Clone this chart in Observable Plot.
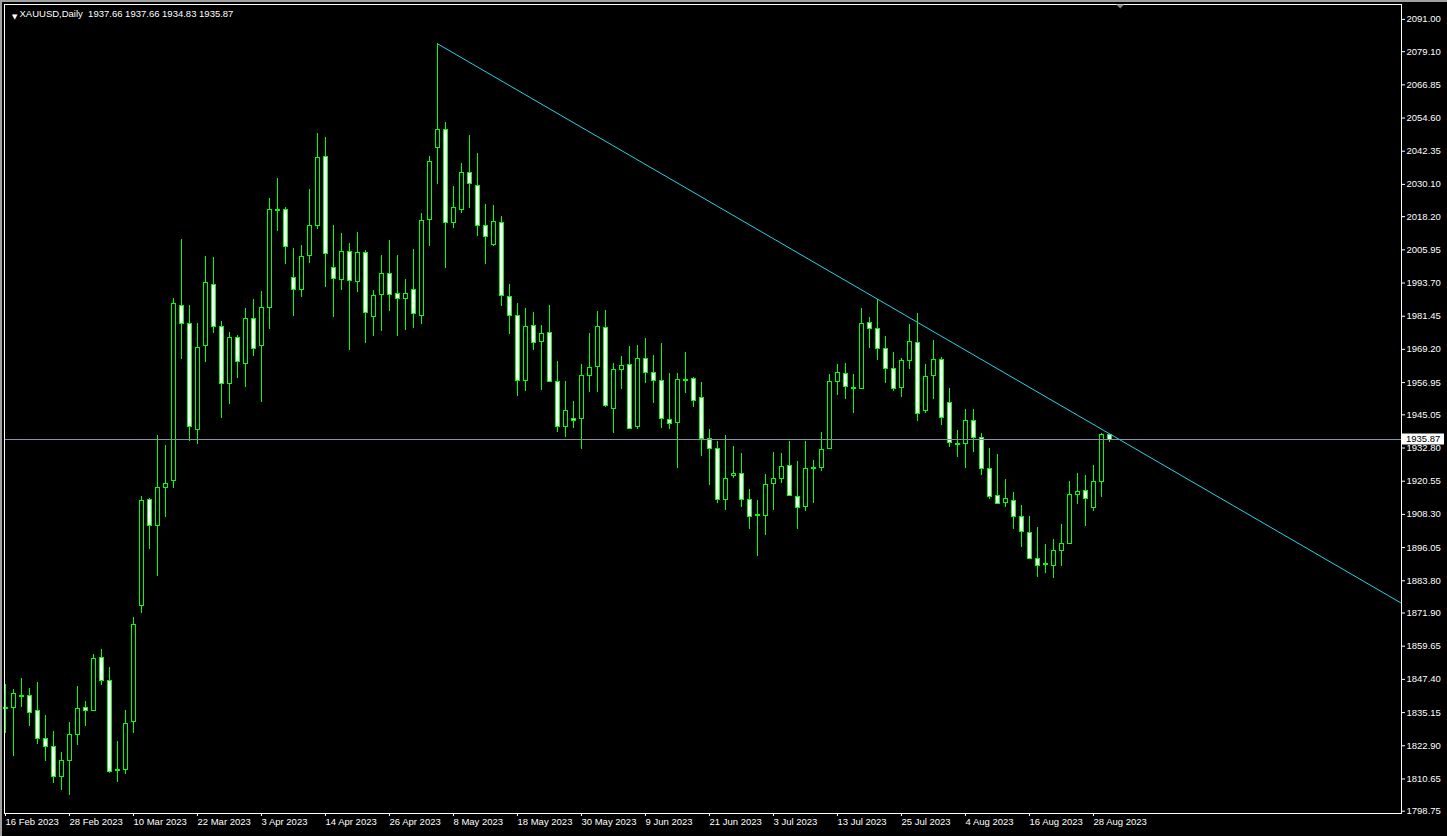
<!DOCTYPE html>
<html>
<head>
<meta charset="utf-8">
<script src="https://cdn.jsdelivr.net/npm/d3@7"></script>
<script src="https://cdn.jsdelivr.net/npm/@observablehq/plot@0.6"></script>
<style>
  html, body { margin: 0; padding: 0; background: #000; overflow: hidden; }
  #wrap { position: relative; width: 1447px; height: 836px; background: #000; }
  #wrap svg { display: block; }
  .edge-top { position: absolute; left: 0; top: 0; width: 1447px; height: 2px; background: #a0a0a0; }
  .edge-left { position: absolute; left: 0; top: 0; width: 2px; height: 836px; background: #a0a0a0; }
</style>
</head>
<body>
<div id="wrap"><div class="edge-top"></div><div class="edge-left"></div></div>
<script>
// ---- data (XAUUSD, Daily) ----
const symbol = "XAUUSD,Daily";
const tickLabels = ["16 Feb 2023","28 Feb 2023","10 Mar 2023","22 Mar 2023","3 Apr 2023","14 Apr 2023","26 Apr 2023","8 May 2023","18 May 2023","30 May 2023","9 Jun 2023","21 Jun 2023","3 Jul 2023","13 Jul 2023","25 Jul 2023","4 Aug 2023","16 Aug 2023","28 Aug 2023"];
const tickBars = [0,8,16,24,32,40,48,56,64,72,80,88,96,104,112,120,128,136];
const priceTicks = [2091.00,2079.10,2066.85,2054.60,2042.35,2030.10,2018.20,2005.95,1993.70,1981.45,1969.20,1956.95,1945.05,1932.80,1920.55,1908.30,1896.05,1883.80,1871.90,1859.65,1847.40,1835.15,1822.90,1810.65,1798.75];

const open = [1836.3,1836.9,1840.8,1841.4,1835.8,1825.5,1822.5,1811.3,1817.2,1826.8,1837.0,1835.8,1855.4,1846.9,1813.6,1813.9,1831.8,1874.6,1913.7,1904.1,
1918.1,1920.6,1985.3,1978.7,1939.4,1970.4,1993.1,1977.6,1956.4,1973.5,1963.8,1980.5,1970.4,1984.6,2020.4,2020.7,1995.6,1991.2,2003.8,2014.8,
2040.3,1999.3,1994.9,2005.2,1994.0,2004.9,1981.3,1989.4,1997.1,1989.7,1987.9,1991.2,1981.6,2017.1,2043.6,2050.3,2015.8,2020.6,2034.4,2029.6,
2014.8,2007.7,2015.9,1988.6,1981.6,1957.6,1977.9,1972.0,1975.3,1957.3,1940.7,1943.6,1943.6,1959.5,1962.8,1977.2,1947.3,1961.7,1963.5,1940.7,
1965.8,1960.6,1957.6,1943.2,1942.1,1957.5,1958.4,1951.4,1936.2,1932.5,1913.6,1922.6,1923.3,1913.7,1907.8,1907.8,1919.6,1921.5,1926.3,1914.8,
1911.0,1924.9,1925.5,1932.5,1957.3,1960.2,1954.6,1954.5,1979.0,1976.8,1969.4,1962.1,1955.0,1965.0,1971.7,1946.6,1959.5,1965.4,1949.5,1934.0,
1934.4,1942.9,1936.6,1925.1,1915.2,1912.6,1913.3,1907.4,1901.5,1891.9,1889.5,1889.3,1894.9,1897.5,1915.6,1917.0,1910.8,1920.4,1937.66];
const high = [1845.5,1843.7,1847.7,1844.1,1846.3,1834.1,1828.2,1820.4,1831.5,1844.8,1839.3,1856.6,1858.5,1851.7,1824.5,1835.9,1870.2,1914.9,1914.2,1937.4,
1933.7,1987.9,2009.8,1985.4,1978.7,2003.5,2003.1,1979.5,1975.5,1974.4,1984.3,1987.6,1990.6,2024.9,2032.3,2021.6,2006.5,2007.6,2028.2,2048.9,
2047.4,2015.0,2012.0,2008.3,2012.4,2005.7,1991.0,2003.9,2009.4,2003.9,1995.0,2006.0,2019.4,2040.4,2082.0,2053.0,2029.3,2037.8,2048.2,2041.5,
2022.7,2022.3,2018.3,1993.2,1986.2,1984.3,1982.8,1978.0,1985.4,1964.8,1957.4,1950.0,1963.6,1975.1,1983.2,1983.6,1963.9,1966.6,1970.3,1970.7,
1973.2,1967.0,1971.4,1960.3,1960.2,1968.1,1958.7,1956.9,1939.5,1935.2,1937.4,1933.4,1930.8,1917.4,1913.4,1923.0,1931.1,1930.8,1935.2,1927.8,
1935.2,1928.2,1938.5,1960.0,1963.6,1963.9,1960.0,1984.3,1981.0,1987.5,1974.0,1968.1,1965.8,1978.4,1982.5,1963.6,1972.5,1966.1,1954.8,1939.3,
1947.0,1947.0,1938.1,1932.5,1930.4,1921.1,1916.3,1911.5,1907.4,1903.5,1897.2,1898.9,1904.5,1920.5,1923.4,1922.7,1926.4,1938.1,1937.66];
const low = [1827.5,1819.1,1837.2,1830.1,1823.5,1817.2,1809.1,1806.5,1804.7,1823.1,1830.1,1835.6,1845.3,1812.8,1809.5,1812.2,1827.6,1871.6,1895.5,1885.5,
1907.3,1918.0,1965.6,1935.3,1934.1,1964.4,1975.2,1943.7,1949.0,1958.6,1955.2,1966.7,1949.7,1976.7,2012.8,2000.7,1981.5,1988.5,2001.0,2013.6,
1992.2,1981.1,1991.0,1968.8,1990.2,1971.5,1974.1,1975.9,1983.3,1974.0,1976.2,1977.0,1978.5,2007.3,2030.2,1999.2,2014.0,2019.5,2021.3,2011.0,
2000.7,2007.3,1985.2,1974.8,1951.9,1953.8,1968.9,1954.2,1956.9,1938.7,1936.8,1940.1,1932.3,1953.4,1953.4,1947.9,1938.1,1954.3,1939.6,1939.6,
1956.5,1949.1,1939.9,1939.6,1925.1,1953.1,1947.7,1929.8,1919.1,1912.5,1909.9,1921.5,1910.8,1902.9,1892.9,1900.6,1909.9,1919.8,1914.8,1902.6,
1909.5,1912.5,1924.3,1932.2,1952.3,1950.8,1945.7,1954.3,1969.7,1965.2,1956.7,1953.6,1951.6,1961.8,1942.5,1945.5,1950.6,1941.2,1932.9,1929.4,
1925.4,1931.3,1922.8,1913.9,1912.2,1910.8,1902.6,1896.2,1891.8,1885.1,1886.4,1884.8,1889.2,1897.5,1911.9,1903.7,1909.3,1914.4,1934.83];
const close = [1837.0,1842.1,1841.2,1834.9,1825.3,1822.5,1811.5,1817.4,1827.0,1836.6,1835.8,1855.0,1846.9,1813.2,1814.0,1831.0,1867.6,1913.2,1904.1,1918.1,
1919.6,1986.1,1978.5,1940.5,1969.8,1993.8,1977.4,1956.4,1973.5,1964.5,1980.3,1969.3,1984.6,2020.7,2020.8,2007.1,1991.2,2003.4,2014.8,2039.9,
2004.5,1995.3,2005.2,1994.5,2004.9,1982.7,1989.0,1997.1,1989.4,1987.9,1989.7,1982.4,2016.7,2038.5,2050.3,2015.8,2021.5,2034.4,2030.3,2014.8,
2010.8,2016.3,1988.9,1981.6,1957.6,1977.6,1971.7,1975.0,1957.3,1940.7,1946.6,1942.9,1959.5,1962.4,1977.6,1948.4,1961.7,1963.2,1939.9,1965.8,
1960.6,1957.6,1943.6,1941.8,1958.0,1957.9,1950.2,1936.2,1932.5,1913.6,1921.5,1923.3,1913.7,1907.4,1908.2,1919.2,1921.5,1925.9,1915.2,1910.8,
1925.1,1925.3,1932.2,1957.3,1960.6,1955.4,1955.0,1978.7,1976.8,1969.4,1962.1,1954.7,1965.0,1972.0,1945.5,1959.1,1965.4,1944.0,1934.7,1934.4,
1942.9,1936.6,1925.1,1914.8,1912.2,1914.1,1907.4,1901.9,1891.9,1889.3,1889.9,1894.9,1897.5,1915.6,1916.7,1914.1,1920.4,1937.7,1935.87];

// trendline anchors (bar index, price)
const trendBar = [54, 174.5];
const trendPrice = [2082.0, 1875.5];
const bidPrice = close[close.length - 1];

// ---- build ----
const bars = open.map((o, i) => ({i, o, h: high[i], l: low[i], c: close[i]}));
const trend = trendBar.map((x, k) => ({x, y: trendPrice[k]}));
const last = bars[bars.length - 1];
const fmt = v => v.toFixed(2);
const header = symbol + "\u00a0\u00a0" + [last.o, last.h, last.l, last.c].map(fmt).join(" ");

const FONT = "'Liberation Sans', Arial, 'DejaVu Sans', sans-serif";
const green = "#00ff00";

const chart = Plot.plot({
  width: 1447,
  height: 836,
  marginLeft: 4,
  marginRight: 46,
  marginTop: 4,
  marginBottom: 23,
  style: {background: "black", color: "white", fontFamily: FONT, fontSize: "9.5px"},
  x: {domain: [-0.125, 174.5], axis: null},
  y: {domain: [1797.9, 2096.5], axis: null},
  marks: [
    Plot.ruleX(bars, {x: "i", y1: "l", y2: "h", stroke: green, strokeWidth: 1, shapeRendering: "crispEdges"}),
    Plot.rect(bars, {
      x1: d => d.i - 0.25, x2: d => d.i + 0.25,
      y1: "o", y2: "c",
      fill: d => (d.c < d.o ? "white" : "black"),
      stroke: green, strokeWidth: 1, shapeRendering: "crispEdges"
    }),
    Plot.ruleY([bidPrice], {stroke: "#8794a8", strokeWidth: 1, shapeRendering: "crispEdges"}),
    Plot.line(trend, {x: "x", y: "y", stroke: "#22d3e6", strokeWidth: 1, clip: true}),
    Plot.frame({stroke: "white", strokeWidth: 1, shapeRendering: "crispEdges"}),
    Plot.axisY(priceTicks, {
      anchor: "right", tickSize: 3, tickPadding: 2,
      tickFormat: d => d.toFixed(2), fill: "white", stroke: "white", fontSize: 9.5
    }),
    Plot.axisX(tickBars, {
      anchor: "bottom", tickSize: 3, tickPadding: 2,
      tickFormat: d => tickLabels[tickBars.indexOf(d)],
      textAnchor: "start", fill: "white", stroke: "white", fontSize: 9.5
    }),
    Plot.text(["\u25BC"], {frameAnchor: "top-left", dx: 7.5, dy: 9.5, fontSize: 7, fill: "white", fontFamily: "'DejaVu Sans', sans-serif"}),
    Plot.text([header], {frameAnchor: "top-left", dx: 15, dy: 9, textAnchor: "start", lineAnchor: "middle", fill: "white", fontSize: 9.5})
  ]
});

document.getElementById("wrap").appendChild(chart);

// bid price label box on the price scale
const yb = Math.round(chart.scale("y").apply(bidPrice));
const g = d3.select(chart).append("g");
g.append("rect").attr("x", 1402).attr("y", yb - 5.5).attr("width", 42).attr("height", 11).attr("fill", "white");
g.append("text").attr("x", 1406).attr("y", yb).attr("dy", "0.35em")
  .attr("text-anchor", "start")
  .attr("fill", "black").attr("font-size", 9.5).attr("font-family", FONT).text(fmt(bidPrice));

// chart-shift marker at top
const xs = chart.scale("x").apply(139.4);
d3.select(chart).append("path")
  .attr("d", `M${xs - 4},4.5L${xs + 4},4.5L${xs},8.5Z`).attr("fill", "#7a8590");
</script>
</body>
</html>
